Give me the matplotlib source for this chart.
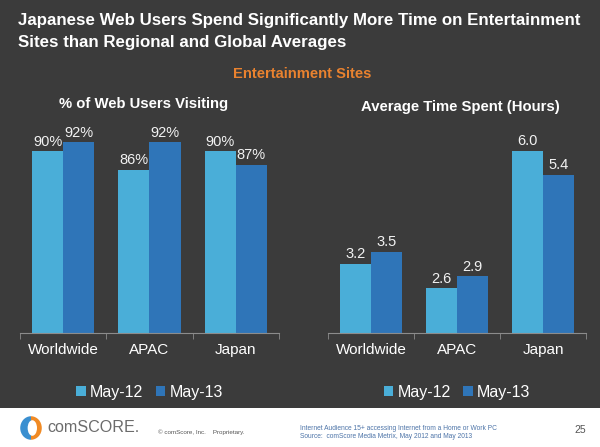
import matplotlib
matplotlib.use("Agg")
from matplotlib import pyplot as plt
from matplotlib.patches import Rectangle, Wedge, Ellipse
import numpy as np

regions = ["Worldwide", "APAC", "Japan"]
series = ["May-12", "May-13"]
pct_may12 = [90, 86, 90]
pct_may13 = [92, 92, 87]
hours_may12 = [3.2, 2.6, 6.0]
hours_may13 = [3.5, 2.9, 5.4]

c12 = "#4aaed8"
c13 = "#2f75b8"
bg = "#3b3b3b"

plt.rcParams['font.family'] = ['Liberation Sans', 'DejaVu Sans']

W, H = 600, 447
fig = plt.figure(figsize=(6, 4.47), dpi=100, facecolor=bg)


def fx(px):
    return px / W


def fy(py):
    return 1 - py / H


# footer band
fig.patches.append(Rectangle((0, 0), 1, fy(408), transform=fig.transFigure,
                             facecolor="white", edgecolor="none", zorder=-1))

fig.text(fx(18), fy(21), "Japanese Web Users Spend Significantly More Time on Entertainment",
         color="white", fontsize=12.2, fontweight="bold", va="center", ha="left")
fig.text(fx(18), fy(43), "Sites than Regional and Global Averages",
         color="white", fontsize=12.2, fontweight="bold", va="center", ha="left")
fig.text(fx(302), fy(74), "Entertainment Sites", color="#e9822f", fontsize=10.6,
         fontweight="bold", ha="center", va="center")
fig.text(fx(144), fy(104), "% of Web Users Visiting", color="white", fontsize=10.7,
         fontweight="bold", ha="center", va="center")
fig.text(fx(460), fy(107), "Average Time Spent (Hours)", color="white", fontsize=10.7,
         fontweight="bold", ha="center", va="center")


def draw(rect, v12, v13, ylo, yhi, fmt):
    ax = fig.add_axes(rect)
    ax.set_facecolor("none")
    x = np.arange(len(regions))
    w = 0.36
    b1 = ax.bar(x - w / 2, [v - ylo for v in v12], w, bottom=ylo, color=c12, label=series[0])
    b2 = ax.bar(x + w / 2, [v - ylo for v in v13], w, bottom=ylo, color=c13, label=series[1])
    for bars, vals in ((b1, v12), (b2, v13)):
        for r, v in zip(bars, vals):
            ax.annotate(fmt.format(v), (r.get_x() + r.get_width() / 2, v),
                        xytext=(0, 2), textcoords="offset points", ha="center", va="bottom",
                        color="#f2f2f2", fontsize=10.5)
    ax.set_xlim(-0.5, 2.5)
    ax.set_ylim(ylo, yhi)
    for s in ["top", "right", "left"]:
        ax.spines[s].set_visible(False)
    ax.spines["bottom"].set_color("#8c8c8c")
    ax.set_yticks([])
    ax.set_xticks(x)
    ax.set_xticklabels(regions, color="white", fontsize=11)
    ax.tick_params(axis="x", which="major", length=0, pad=7)
    ax.set_xticks([-0.5, 0.5, 1.5, 2.5], minor=True)
    ax.tick_params(axis="x", which="minor", length=4, color="#8c8c8c")
    leg = ax.legend(loc="center", bbox_to_anchor=(0.5, -0.26), ncol=2, frameon=False,
                    handlelength=0.6, handleheight=0.6, handletextpad=0.25,
                    columnspacing=0.8, fontsize=11.5)
    for t in leg.get_texts():
        t.set_color("white")
    return ax


bottom = fy(333)
hgt = 227 / H
draw([fx(20), bottom, fx(259), hgt], pct_may12, pct_may13, 50, 100, "{:.0f}%")
draw([fx(328), bottom, fx(258), hgt], hours_may12, hours_may13, 1.5, 1.5 + 227 / 40.5, "{:.1f}")

# footer: logo
lax = fig.add_axes([fx(20), fy(440), fx(22), 24 / H])
lax.set_xlim(-1, 1)
lax.set_ylim(-1, 1)
lax.axis("off")
lax.add_patch(Wedge((0, 0), 0.98, 90, 270, facecolor="#3a8fd0", edgecolor="none"))
lax.add_patch(Wedge((0, 0), 0.98, -90, 90, facecolor="#f08a24", edgecolor="none"))
lax.add_patch(Ellipse((0.12, 0), 0.85, 1.3, facecolor="white", edgecolor="none"))
fig.text(fx(47), fy(428), "comSCORE.", color="#6b6b6b", fontsize=11.6, ha="left", va="center")
fig.text(fx(158), fy(432), "\u00a9 comScore, Inc.    Proprietary.", color="#555555",
         fontsize=4.5, ha="left", va="center")
fig.text(fx(300), fy(429), "Internet Audience 15+ accessing Internet from a Home or Work PC",
         color="#4d74a8", fontsize=4.8, ha="left", va="center")
fig.text(fx(300), fy(437), "Source:  comScore Media Metrix, May 2012 and May 2013",
         color="#4d74a8", fontsize=4.8, ha="left", va="center")
fig.text(fx(580), fy(430), "25", color="#555555", fontsize=7.5, ha="center", va="center")

fig.savefig("out.png", dpi=100, facecolor=bg)
